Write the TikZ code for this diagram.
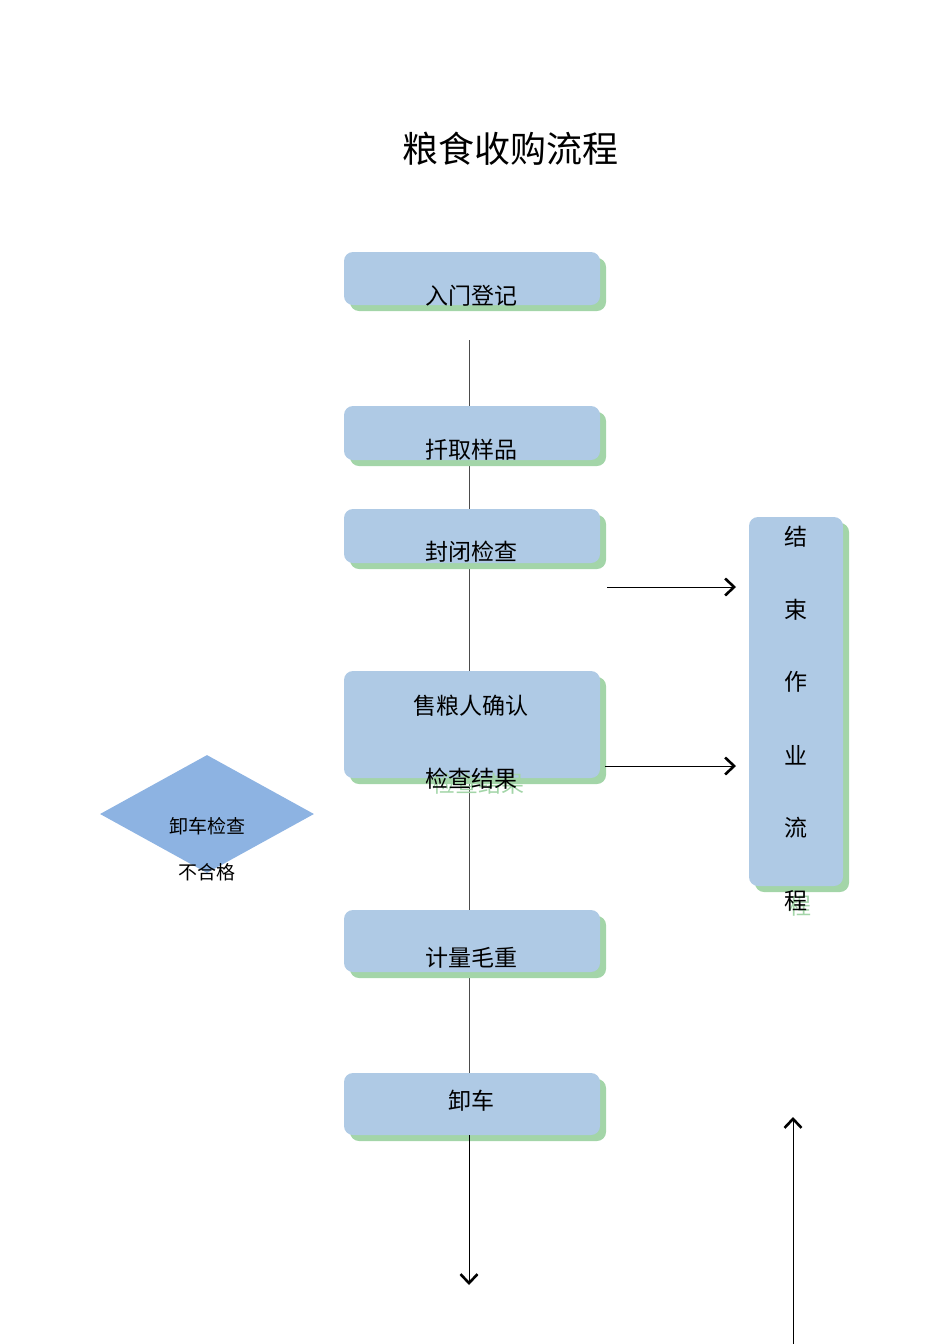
\documentclass[tikz,border=0pt]{standalone}
\usepackage{fontspec}
\setmainfont{Noto Sans CJK SC}
\newfontfamily\cjk{Noto Sans CJK SC}
\usetikzlibrary{shapes.geometric,arrows.meta}
\definecolor{boxblue}{HTML}{AFCAE5}
\definecolor{shadowgreen}{HTML}{A3D5A8}
\definecolor{diablue}{HTML}{8DB3E2}
\begin{document}
\begin{tikzpicture}[x=1pt,y=-1pt,
  box/.style={fill=boxblue,rounded corners=9pt},
  shd/.style={fill=shadowgreen,rounded corners=9pt},
  lbl/.style={font=\cjk\fontsize{23}{26}\selectfont,inner sep=0pt},
  ghost/.style={font=\cjk\fontsize{23}{26}\selectfont,inner sep=0pt,text=shadowgreen},
  conn/.style={draw=black!70,line width=1pt},
  arr/.style={draw=black,line width=1pt,-{Straight Barb[length=9pt,width=17pt,line width=2.6pt]}}]
\useasboundingbox (0,0) rectangle (950,1344);
\node[font=\cjk\fontsize{36}{40}\selectfont,inner sep=0pt] (title) at (510,149) {粮食收购流程};
% connectors (behind boxes)
\coordinate (s0) at (469,340);
\coordinate (e6) at (469,1285);
\foreach \n/\a/\b in {b1/252/305,b2/406/460,b3/509/563,b4/671/778,b5/910/972,b6/1073/1135}{
  \coordinate (\n t) at (469,\a);
  \coordinate (\n b) at (469,\b);
}
\draw[conn] (s0) -- (b2t);
\draw[conn] (b2b) -- (b3t);
\draw[conn] (b3b) -- (b4t);
\draw[conn] (b4b) -- (b5t);
\draw[conn] (b5b) -- (b6t);
% boxes
\foreach \n/\a/\b in {b1/252/305,b2/406/460,b3/509/563,b4/671/778,b5/910/972,b6/1073/1135}{
  \fill[shd] (350,\a+6) rectangle (606,\b+6);
  \fill[box] (344,\a) rectangle (600,\b);
}
\fill[shd] (755,523) rectangle (849,892);
\fill[box] (749,517) rectangle (843,886);
\node[ghost] at (478,784) {检查结果};
\node[ghost] at (800,906) {程};
\node[lbl] (t1) at (471,296) {入门登记};
\node[lbl] (t2) at (471,450) {扦取样品};
\node[lbl] (t3) at (471,552) {封闭检查};
\node[lbl] (t4) at (471,706) {售粮人确认};
\node[lbl] (t4b) at (471,779) {检查结果};
\node[lbl] (t5) at (471,958) {计量毛重};
\node[lbl] (t6) at (471,1101) {卸车};
\foreach \c/\y in {结/537,束/610,作/682,业/755,流/828,程/901}{\node[lbl] at (796,\y) {\c};}
% diamond
\node[diamond,fill=diablue,minimum width=214pt,minimum height=118pt,inner sep=0pt,aspect=1.8] (d) at (207,814) {};
\node[font=\cjk\fontsize{19}{22}\selectfont,inner sep=0pt] (dt) at (207,826) {卸车检查};
\node[font=\cjk\fontsize{19}{22}\selectfont,inner sep=0pt] (dt2) at (207,872) {不合格};
\draw[arr] (b6b) -- (e6);
\coordinate (a1s) at (607,587); \coordinate (a1e) at (736,587);
\coordinate (a2s) at (605,766); \coordinate (a2e) at (736,766);
\coordinate (a3s) at (793,1344); \coordinate (a3e) at (793,1117);
\draw[arr] (a1s) -- (a1e);
\draw[arr] (a2s) -- (a2e);
\draw[arr] (a3s) -- (a3e);
\end{tikzpicture}
\end{document}
